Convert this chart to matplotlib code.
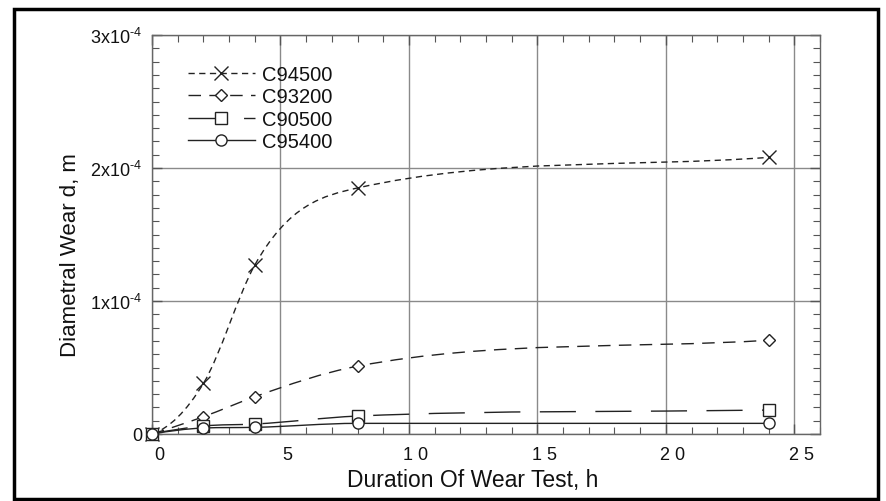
import matplotlib
matplotlib.use('Agg')
import matplotlib.pyplot as plt
from matplotlib.path import Path
from matplotlib.patches import PathPatch, Rectangle
from matplotlib.lines import Line2D
from matplotlib.ticker import MultipleLocator, FixedLocator
from matplotlib.transforms import ScaledTranslation
import numpy as np

plt.rcParams['font.family'] = ['Liberation Sans', 'DejaVu Sans']
plt.rcParams['mathtext.fontset'] = 'custom'
plt.rcParams['mathtext.rm'] = 'Liberation Sans'
plt.rcParams['mathtext.it'] = 'Liberation Sans'

# wear test data (hours, diametral wear in m)
hours = [0, 2, 4, 8, 24]
c94500 = [0, 0.38e-4, 1.27e-4, 1.85e-4, 2.08e-4]
c93200 = [0, 0.13e-4, 0.28e-4, 0.51e-4, 0.705e-4]
c90500 = [0, 0.06e-4, 0.075e-4, 0.135e-4, 0.18e-4]
c95400 = [0, 0.045e-4, 0.05e-4, 0.08e-4, 0.08e-4]

names = ['C94500', 'C93200', 'C90500', 'C95400']
series = [c94500, c93200, c90500, c95400]
markers = ['x', 'D', 's', 'o']
msizes = [10, 6, 8, 8]
styles = [(0, (4.5, 3.2)), (0, (9, 6)), (0, (26, 14)), '-']

xticks = [0, 5, 10, 15, 20, 25]
xticklabels = ['0', '5', '1 0', '1 5', '2 0', '2 5']
yticks = [0, 1e-4, 2e-4, 3e-4]
yticklabels = ['0', r'1x10$^{\text{-}4}$', r'2x10$^{\text{-}4}$', r'3x10$^{\text{-}4}$']

ink = '#222222'


def smooth_path(x, y):
    # cubic bezier through the points (monotone-ish tangents)
    x = np.asarray(x, float)
    y = np.asarray(y, float)
    h = np.diff(x)
    d = np.diff(y) / h
    m = np.zeros(len(x))
    for i in range(1, len(x) - 1):
        if d[i - 1] * d[i] <= 0:
            m[i] = 0
        else:
            m[i] = (h[i] * d[i - 1] + h[i - 1] * d[i]) / (h[i - 1] + h[i])
            lim = 3 * min(abs(d[i - 1]), abs(d[i]))
            if abs(m[i]) > lim:
                m[i] = np.sign(m[i]) * lim
    m[0] = ((2 * h[0] + h[1]) * d[0] - h[0] * d[1]) / (h[0] + h[1])
    if m[0] * d[0] < 0:
        m[0] = 0
    m[-1] = d[-1]
    verts = [(x[0], y[0])]
    codes = [Path.MOVETO]
    for i in range(len(x) - 1):
        verts += [(x[i] + h[i] / 3, y[i] + m[i] * h[i] / 3),
                  (x[i + 1] - h[i] / 3, y[i + 1] - m[i + 1] * h[i] / 3),
                  (x[i + 1], y[i + 1])]
        codes += [Path.CURVE4] * 3
    return Path(verts, codes)


fig = plt.figure(figsize=(8.87, 5.02), dpi=100)
ax = fig.add_axes([152 / 887, 1 - 435 / 502, 668 / 887, 399 / 502])

handles = []
for name, vals, mk, ms, ls in zip(names, series, markers, msizes, styles):
    ax.add_patch(PathPatch(smooth_path(hours, vals), fill=False, edgecolor=ink,
                           linewidth=1.0, linestyle=ls, zorder=3))
    ax.plot(hours, vals, linestyle='none', marker=mk, markersize=ms,
            markerfacecolor='white' if mk != 'x' else ink, markeredgecolor=ink,
            markeredgewidth=1.0, zorder=4, clip_on=False)
    handles.append(Line2D([], [], color=ink, linewidth=1.0, linestyle=ls, marker=mk,
                          markersize=ms, markerfacecolor='white', markeredgecolor=ink,
                          markeredgewidth=1.0))

ax.set_xlim(0, 26)
ax.set_ylim(0, 3e-4)

ax.xaxis.set_major_locator(FixedLocator(xticks))
ax.set_xticklabels(xticklabels)
ax.xaxis.set_minor_locator(MultipleLocator(1))
ax.yaxis.set_major_locator(FixedLocator(yticks))
ax.set_yticklabels(yticklabels)
ax.yaxis.set_minor_locator(MultipleLocator(1e-5))

ax.tick_params(which='both', direction='in', top=True, right=True, color='#555555',
               labelsize=13, labelcolor='#111111')
ax.tick_params(which='major', length=7, width=1.0)
ax.tick_params(which='minor', length=5, width=0.8)
ax.tick_params(axis='x', pad=9)
ax.tick_params(axis='y', pad=7)

for lab in ax.get_xticklabels():
    lab.set_transform(lab.get_transform() + ScaledTranslation(7 / 100, 0, fig.dpi_scale_trans))

ax.grid(True, which='major', color='#8a8a8a', linewidth=1.0)
for sp in ax.spines.values():
    sp.set_color('#666666')
    sp.set_linewidth(1.0)

ax.set_xlabel('Duration Of Wear Test, h', fontsize=16.5, color='#111111')
ax.xaxis.set_label_coords(0.48, -0.085)
ax.set_ylabel('Diametral Wear d, m', fontsize=16, color='#111111')
ax.yaxis.set_label_coords(-0.106, 0.451)

leg = ax.legend(handles, names, loc='upper left', bbox_to_anchor=(0.054, 0.925),
                frameon=False, fontsize=14.5, handlelength=3.3, handletextpad=0.35,
                labelspacing=0.17, borderpad=0, borderaxespad=0)
for t in leg.get_texts():
    t.set_color('#111111')

# outer frame
fig.patches.append(Rectangle((14 / 887, 2 / 502), 864 / 887, 490 / 502,
                             transform=fig.transFigure, fill=False,
                             edgecolor='black', linewidth=2.5))

fig.savefig('out.png', dpi=100)
